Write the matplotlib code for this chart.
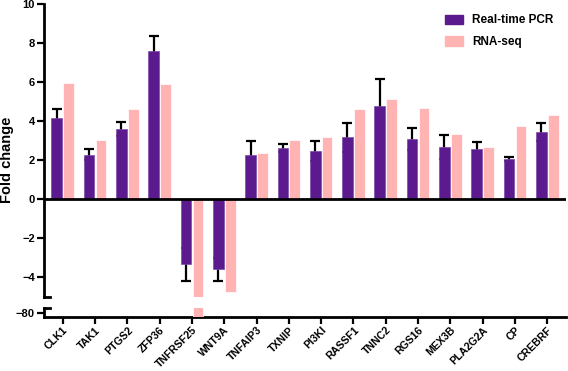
import numpy as np
import matplotlib
matplotlib.use("Agg")
from matplotlib import pyplot as plt
from matplotlib.patches import Patch

plt.rcParams['font.family'] = ['Liberation Sans', 'DejaVu Sans']
plt.rcParams['font.weight'] = 'bold'

genes = ['CLK1', 'TAK1', 'PTGS2', 'ZFP36', 'TNFRSF25', 'WNT9A', 'TNFAIP3', 'TXNIP',
         'PI3KI', 'RASSF1', 'TNNC2', 'RGS16', 'MEX3B', 'PLA2G2A', 'CP', 'CREBRF']
pcr = [4.14, 2.27, 3.59, 7.59, -3.35, -3.61, 2.24, 2.63,
       2.46, 3.16, 4.77, 3.08, 2.67, 2.56, 2.05, 3.42]
pcr_err = [0.49, 0.29, 0.34, 0.79, 0.84, 0.58, 0.73, 0.21,
           0.51, 0.74, 1.40, 0.56, 0.63, 0.36, 0.10, 0.46]
rnaseq = [5.96, 3.03, 4.60, 5.91, -85.0, -4.75, 2.34, 3.04,
          3.19, 4.63, 5.14, 4.67, 3.35, 2.67, 3.76, 4.29]

purple = '#5b1a8e'
pink = '#ffb3b3'

W, H = 568, 371
fig = plt.figure(figsize=(W / 100, H / 100), dpi=100)
left, right = 44 / W, 566 / W
ax = fig.add_axes([left, 1 - 296.5 / H, right - left, (296.5 - 4) / H])
axb = fig.add_axes([left, 1 - 316.7 / H, right - left, (316.7 - 308) / H])

x = np.arange(len(genes))
bw = 0.33
off = 0.185

for a in (ax, axb):
    a.bar(x - off, pcr, bw, color=purple, edgecolor='#7d4aa8', linewidth=0.5, zorder=3)
    a.bar(x + off, rnaseq, bw, color=pink, edgecolor='white', linewidth=0.5, zorder=3)
    a.set_xlim(-0.58, 15.58)
    for s in ('top', 'right'):
        a.spines[s].set_visible(False)
    a.spines['left'].set_linewidth(2)
    a.tick_params(axis='y', length=5, width=1.6, labelsize=8, pad=1.5)

ax.errorbar(x - off, pcr, yerr=pcr_err, fmt='none', ecolor='black',
            elinewidth=1.6, capsize=3.5, capthick=1.6, zorder=2)

ax.set_ylim(-5, 10)
ax.set_yticks(np.arange(-4, 11, 2))
ax.spines['bottom'].set_visible(False)
ax.tick_params(axis='x', bottom=False, labelbottom=False)
ax.axhline(0, color='black', lw=2, zorder=4)

axb.set_ylim(-80.4, -79.4)
axb.set_yticks([-80])
axb.spines['bottom'].set_linewidth(2)
axb.set_xticks(x)
axb.set_xticklabels(genes, rotation=45, ha='right', rotation_mode='anchor',
                    fontsize=7.6, fontweight='bold')
axb.tick_params(axis='x', length=5, width=1.6, pad=1)

# break marks on the y axis
d = 6 / (W * (right - left))
ax.plot([0, d], [0, 0], color='black', lw=2, transform=ax.transAxes, clip_on=False)
axb.plot([0, d], [1, 1], color='black', lw=2, transform=axb.transAxes, clip_on=False)

fig.text(0.013, 1 - 160 / H, 'Fold change', rotation=90, ha='center', va='center',
         fontsize=10.5, fontweight='bold')

handles = [Patch(color=purple), Patch(color=pink)]
fig.legend(handles, ['Real-time PCR', 'RNA-seq'], loc='upper left',
           bbox_to_anchor=(436 / W, 1 - 5 / H), frameon=False, fontsize=8.5,
           handlelength=1.5, handleheight=0.85, handletextpad=0.75,
           labelspacing=0.8, borderpad=0.3)

fig.savefig('out.png', dpi=100)
